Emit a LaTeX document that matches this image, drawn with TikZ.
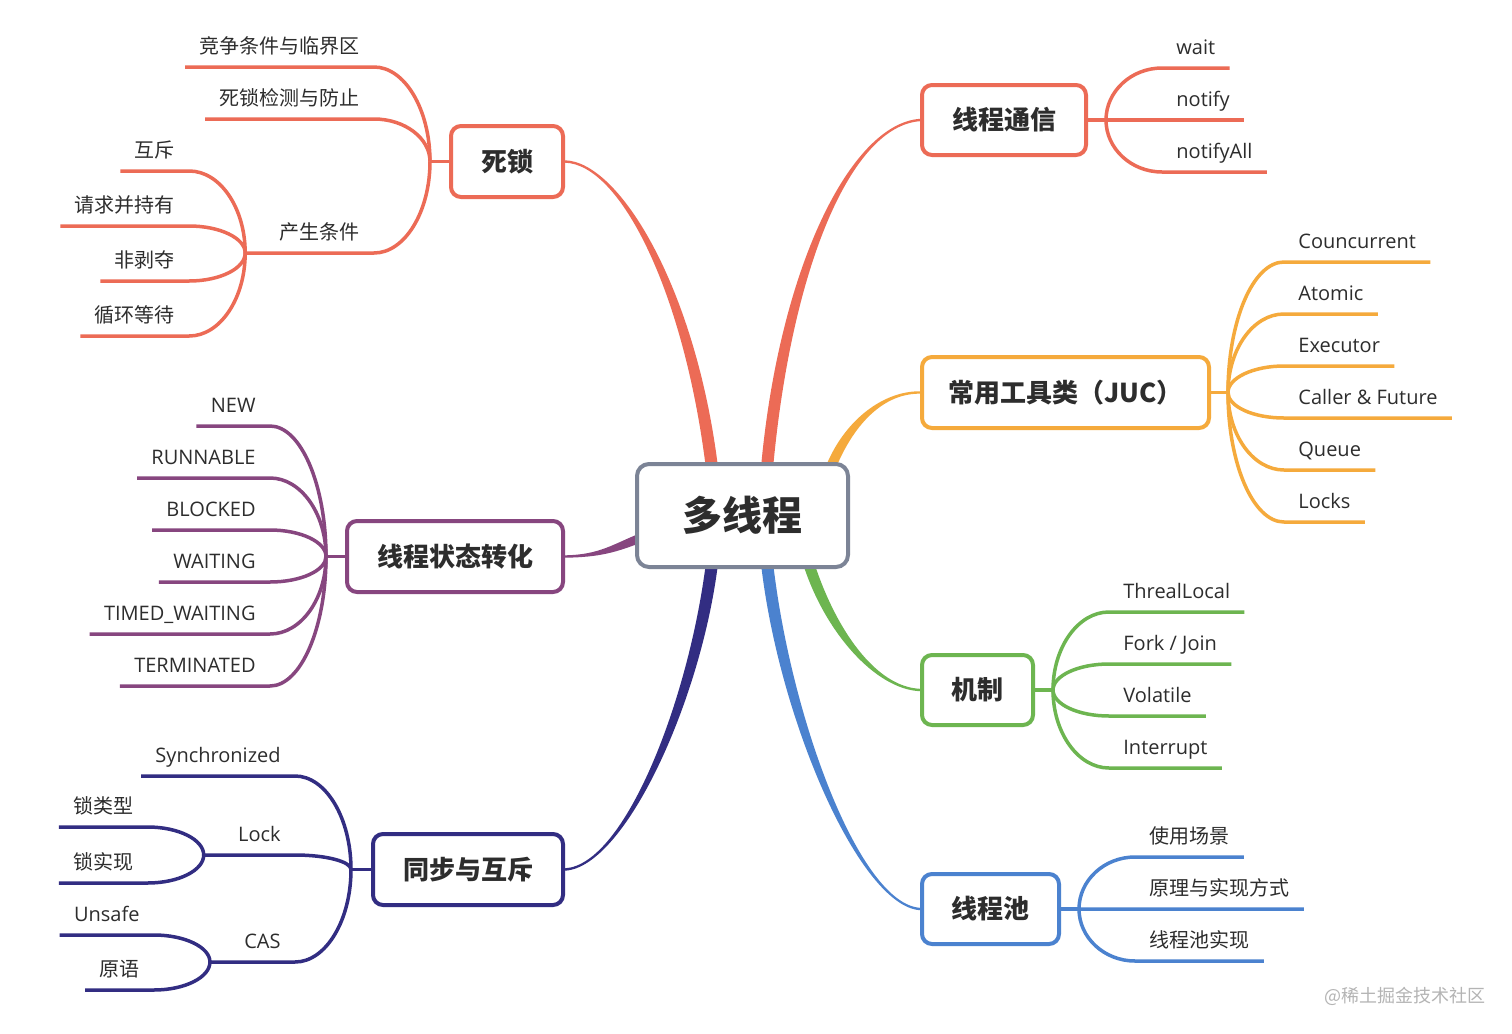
\documentclass[tikz,border=0pt]{standalone}
\usepackage{fontspec}
\setmainfont{Open Sans}
\newfontfamily\cjk{Noto Sans CJK SC}
\usetikzlibrary{calc,backgrounds}
\definecolor{cRed}{HTML}{EC6B56}
\definecolor{cYel}{HTML}{F5AA3C}
\definecolor{cPur}{HTML}{87467F}
\definecolor{cNavy}{HTML}{322D82}
\definecolor{cGreen}{HTML}{6DB550}
\definecolor{cBlue}{HTML}{4B82CF}
\definecolor{cGray}{HTML}{7C8496}
\definecolor{txt}{HTML}{2D2D2D}
\definecolor{cWm}{HTML}{B4B4B4}
\tikzset{
  leaf/.style={inner sep=0pt, text=txt, font=\fontsize{10}{12}\selectfont},
  leafline/.style={line width=1.75pt},
  box/.style={draw, fill=white, rounded corners=5pt, line width=2pt, inner sep=0pt,
    text=txt, font=\cjk\bfseries\fontsize{13}{15}\selectfont},
}
% tapered main branch: #1 colour, #2 child end, #3 c1, #4 c2, #5 centre end, #6 child half-normal, #7 centre half-normal
\newcommand\mmtaper[7]{%
  \fill[#1] ($#2+#6$) .. controls ($#3+#6$) and ($#4+#7$) .. ($#5+#7$)
     -- ($#5-#7$) .. controls ($#4-#7$) and ($#3-#6$) .. ($#2-#6$) -- cycle;}
% leaf connector from fork #1 to leaf #2 (uses #2-y and #2-i)
\newcommand\leafconn[2]{%
  \draw[leafline] (#1) .. controls ($(#1)!0.55!(#1 |- #2-y)$) and ($(#2-i)!0.55!(#1 |- #2-y)$) .. (#2-i) -- (#2-o);}
% left leaf: [#1 outer extension] #2 name, #3 fork, #4 line y, #5 text
\newcommand\lleaf[5][14]{%
  \coordinate (#2-y) at (0,#4);
  \node[leaf, anchor=base east] (#2) at ($(#3 |- #2-y)+(-70,-14)$) {#5};
  \coordinate (#2-i) at ($(#3 |- #2-y)+(-56,0)$);
  \coordinate (#2-o) at ($(#2.base west)+(-#1,14)$);
  \leafconn{#3}{#2}}
\newcommand\rleaf[5][14]{%
  \coordinate (#2-y) at (0,#4);
  \node[leaf, anchor=base west] (#2) at ($(#3 |- #2-y)+(70,-14)$) {#5};
  \coordinate (#2-i) at ($(#3 |- #2-y)+(56,0)$);
  \coordinate (#2-o) at ($(#2.base east)+(#1,14)$);
  \leafconn{#3}{#2}}
\begin{document}
\begin{tikzpicture}[x=0.5pt,y=-0.5pt]
\useasboundingbox (0,0) rectangle (1512,1034);
\begin{pgfonlayer}{background}
  \fill[white] (0,0) rectangle (1512,1034);
\end{pgfonlayer}

% centre
\node[draw=cGray, fill=white, line width=2pt, rounded corners=6pt, inner sep=0pt,
  minimum width=105.5pt, minimum height=51.5pt, text=txt,
  font=\cjk\bfseries\fontsize{20}{24}\selectfont] (cn) at (742.5,515.5) {多线程};

% 死锁
\begin{scope}[color=cRed]
  \node[box, minimum width=56pt, minimum height=35.5pt] (dl) at (507,161.5) {死锁};
  \coordinate (f1) at ($(dl.west)+(-19,0)$);
  \draw[leafline] (dl.west) -- (f1);
  \lleaf{l11}{f1}{67}{\cjk 竞争条件与临界区}
  \lleaf{l12}{f1}{119}{\cjk 死锁检测与防止}
  \lleaf[34]{l13}{f1}{253}{\cjk 产生条件}
  \lleaf{l131}{l13-o}{171}{\cjk 互斥}
  \lleaf{l132}{l13-o}{226}{\cjk 请求并持有}
  \lleaf{l133}{l13-o}{281}{\cjk 非剥夺}
  \lleaf{l134}{l13-o}{336}{\cjk 循环等待}
\end{scope}

% 线程通信
\begin{scope}[color=cRed]
  \node[box, minimum width=82pt, minimum height=35pt] (tx) at (1004,120) {线程通信};
  \coordinate (f2) at ($(tx.east)+(18,0)$);
  \draw[leafline] (tx.east) -- (f2);
  \rleaf{l21}{f2}{68}{wait}
  \rleaf{l22}{f2}{120}{notify}
  \rleaf{l23}{f2}{172}{notifyAll}
\end{scope}

% JUC
\begin{scope}[color=cYel]
  \node[box, minimum width=143.5pt, minimum height=35.5pt] (juc) at (1065.5,392.5) {常用工具类（JUC）};
  \coordinate (f3) at ($(juc.east)+(17,0)$);
  \draw[leafline] (juc.east) -- (f3);
  \rleaf{l31}{f3}{262}{Councurrent}
  \rleaf{l32}{f3}{314}{Atomic}
  \rleaf{l33}{f3}{366}{Executor}
  \rleaf{l34}{f3}{418}{Caller \& Future}
  \rleaf{l35}{f3}{470}{Queue}
  \rleaf{l36}{f3}{522}{Locks}
\end{scope}

% 线程状态转化
\begin{scope}[color=cPur]
  \node[box, minimum width=108pt, minimum height=35.5pt] (zt) at (455,556.5) {线程状态转化};
  \coordinate (f4) at ($(zt.west)+(-19,0)$);
  \draw[leafline] (zt.west) -- (f4);
  \lleaf{l41}{f4}{426}{NEW}
  \lleaf{l42}{f4}{478}{RUNNABLE}
  \lleaf{l43}{f4}{530}{BLOCKED}
  \lleaf{l44}{f4}{582}{WAITING}
  \lleaf{l45}{f4}{634}{TIMED\_WAITING}
  \lleaf{l46}{f4}{686}{TERMINATED}
\end{scope}

% 同步与互斥
\begin{scope}[color=cNavy]
  \node[box, minimum width=95pt, minimum height=35.5pt] (tb) at (468,869.5) {同步与互斥};
  \coordinate (f5) at ($(tb.west)+(-20,0)$);
  \draw[leafline] (tb.west) -- (f5);
  \lleaf{l51}{f5}{776}{Synchronized}
  \lleaf[34]{l52}{f5}{855}{Lock}
  \lleaf{l521}{l52-o}{827}{\cjk 锁类型}
  \lleaf{l522}{l52-o}{883}{\cjk 锁实现}
  \lleaf[34]{l53}{f5}{962}{CAS}
  \lleaf{l531}{l53-o}{935}{Unsafe}
  \lleaf{l532}{l53-o}{990}{\cjk 原语}
\end{scope}

% 机制
\begin{scope}[color=cGreen]
  \node[box, minimum width=55.5pt, minimum height=35pt] (jz) at (977.5,690) {机制};
  \coordinate (f6) at ($(jz.east)+(18,0)$);
  \draw[leafline] (jz.east) -- (f6);
  \rleaf{l61}{f6}{612}{ThrealLocal}
  \rleaf{l62}{f6}{664}{Fork / Join}
  \rleaf{l63}{f6}{716}{Volatile}
  \rleaf{l64}{f6}{768}{Interrupt}
\end{scope}

% 线程池
\begin{scope}[color=cBlue]
  \node[box, minimum width=68.5pt, minimum height=35pt] (xcc) at (990.5,909) {线程池};
  \coordinate (f7) at ($(xcc.east)+(18,0)$);
  \draw[leafline] (xcc.east) -- (f7);
  \rleaf{l71}{f7}{857}{\cjk 使用场景}
  \rleaf{l72}{f7}{909}{\cjk 原理与实现方式}
  \rleaf{l73}{f7}{961}{\cjk 线程池实现}
\end{scope}

% main tapered branches
\begin{pgfonlayer}{background}
  \coordinate (c-dl)  at ($(cn.north)+(-30.5,6)$);
  \coordinate (c-tx)  at ($(cn.north)+(24.5,6)$);
  \coordinate (c-juc) at ($(cn.north)+(88,6)$);
  \coordinate (c-zt)  at ($(cn.west)+(8,21.5)$);
  \coordinate (c-tb)  at ($(cn.south)+(-30.5,-6)$);
  \coordinate (c-xcc) at ($(cn.south)+(24.5,-6)$);
  \coordinate (c-jz)  at ($(cn.south)+(66,-6)$);
  \mmtaper{cRed}{(dl.east)}{(620,163)}{(690,290)}{(c-dl)}{(0,1.2)}{(-6,0.8)}
  \mmtaper{cRed}{(tx.west)}{(850,125)}{(785,270)}{(c-tx)}{(0,-1.2)}{(-6,-0.6)}
  \mmtaper{cYel}{(juc.west)}{(885,392)}{(850,420)}{(c-juc)}{(0,-1.2)}{(-4.6,-1.8)}
  \mmtaper{cPur}{(zt.east)}{(600,556)}{(615,548)}{(c-zt)}{(0,1.2)}{(1.4,4.3)}
  \mmtaper{cNavy}{(tb.east)}{(625,866)}{(695,700)}{(c-tb)}{(0,1.2)}{(6,0.8)}
  \mmtaper{cGreen}{(jz.west)}{(875,688)}{(830,630)}{(c-jz)}{(0,-1.2)}{(5.2,-1.7)}
  \mmtaper{cBlue}{(xcc.west)}{(860,905)}{(785,720)}{(c-xcc)}{(0,-1.2)}{(6,-0.7)}
\end{pgfonlayer}

% watermark
\node[text=cWm, inner sep=0pt, anchor=east, font=\cjk\fontsize{9}{11}\selectfont] (wm) at (1486,996) {@稀土掘金技术社区};
\end{tikzpicture}
\end{document}
